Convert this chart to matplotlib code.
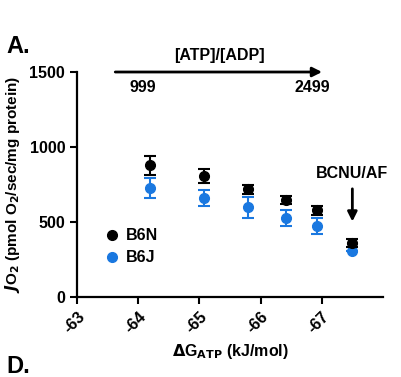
import numpy as np
import matplotlib
matplotlib.use("Agg")
import matplotlib.pyplot as plt
from matplotlib.lines import Line2D

plt.rcParams['font.family'] = ['Liberation Sans', 'DejaVu Sans']
plt.rcParams['font.weight'] = 'bold'

# data
dg_atp = [-64.2, -65.08, -65.8, -66.42, -66.93, -67.5]
b6n = [878, 808, 720, 648, 580, 362]
b6n_err = [65, 48, 30, 25, 30, 25]
b6j = [727, 660, 600, 528, 473, 310]
b6j_err = [65, 55, 70, 55, 55, 0]
xticks = [-63, -64, -65, -66, -67]
yticks = [0, 500, 1000, 1500]

blue = '#1a78e0'

fig = plt.figure(figsize=(4.01, 3.77), dpi=100)
ax = fig.add_axes([0.192, 0.212, 0.763, 0.597])

ax.errorbar(dg_atp, b6n, yerr=b6n_err, fmt='o', color='black', ms=7,
            elinewidth=1.5, capsize=4, capthick=1.5, zorder=3)
ax.errorbar(dg_atp, b6j, yerr=b6j_err, fmt='o', color=blue, ms=7,
            elinewidth=1.5, capsize=4, capthick=1.5, zorder=2)

ax.set_xlim(-63, -68)
ax.set_ylim(0, 1500)
ax.set_xticks(xticks)
ax.set_yticks(yticks)
ax.set_xticklabels([str(t) for t in xticks], rotation=45, ha='right',
                   rotation_mode='anchor')
ax.tick_params(labelsize=11.5, width=1.5, length=5)
for s in ['top', 'right']:
    ax.spines[s].set_visible(False)
for s in ['left', 'bottom']:
    ax.spines[s].set_linewidth(1.6)

ax.set_ylabel(r'$\mathbfit{J}$O$_2$ (pmol O$_2$/sec/mg protein)', fontsize=11,
              fontweight='bold', labelpad=5)
ax.set_xlabel(r'$\Delta$G$_{\mathbf{ATP}}$ (kJ/mol)', fontsize=11.5,
              fontweight='bold', labelpad=4)

handles = [Line2D([], [], ls='none', marker='o', ms=7, color='black'),
           Line2D([], [], ls='none', marker='o', ms=7, color=blue)]
ax.legend(handles=handles, labels=['B6N', 'B6J'],
          loc='upper left', bbox_to_anchor=(0.04, 0.37), frameon=False,
          fontsize=11.5, handletextpad=0.4, labelspacing=0.45,
          handlelength=1.0)

# [ATP]/[ADP] arrow
ax.annotate('', xy=(-67.05, 1500), xytext=(-63.58, 1500),
            arrowprops=dict(arrowstyle='-|>', color='black', lw=2,
                            mutation_scale=14),
            annotation_clip=False)
ax.text(-65.33, 1560, '[ATP]/[ADP]', ha='center', va='bottom', fontsize=11.5,
        fontweight='bold', clip_on=False)
ax.text(-64.08, 1450, '999', ha='center', va='top', fontsize=11.5,
        fontweight='bold', clip_on=False)
ax.text(-66.85, 1450, '2499', ha='center', va='top', fontsize=11.5,
        fontweight='bold', clip_on=False)

# BCNU/AF arrow
ax.annotate('', xy=(-67.5, 485), xytext=(-67.5, 740),
            arrowprops=dict(arrowstyle='-|>', color='black', lw=2,
                            mutation_scale=14))
ax.text(-67.5, 775, 'BCNU/AF', ha='center', va='bottom', fontsize=11.5,
        fontweight='bold')

fig.text(0.015, 0.86, 'A.', fontsize=17, fontweight='bold')
fig.text(0.015, 0.01, 'D.', fontsize=17, fontweight='bold')

fig.savefig('out.png', dpi=100)
